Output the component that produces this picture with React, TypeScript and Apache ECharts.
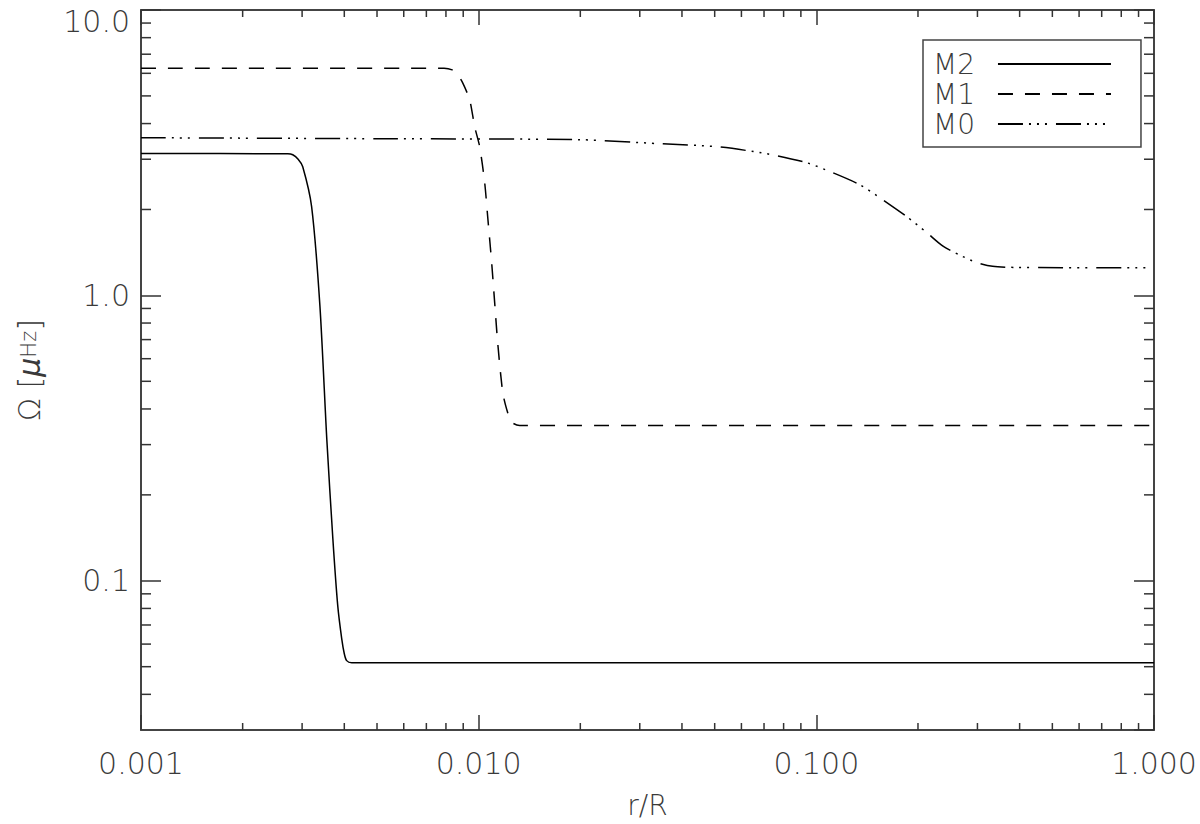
import { useEffect, useRef } from 'react';
import * as echarts from 'echarts';

// Axis ranges
const X_MIN = 0.001;
const X_MAX = 1.0;
const Y_MIN = 0.03;
const Y_MAX = 10.0;

// Minor tick values (log axes, 2..9 per decade)
const xMinorTicks = [
  0.002, 0.003, 0.004, 0.005, 0.006, 0.007, 0.008, 0.009,
  0.02, 0.03, 0.04, 0.05, 0.06, 0.07, 0.08, 0.09,
  0.2, 0.3, 0.4, 0.5, 0.6, 0.7, 0.8, 0.9,
];
const yMinorTicks = [
  0.04, 0.05, 0.06, 0.07, 0.08, 0.09,
  0.2, 0.3, 0.4, 0.5, 0.6, 0.7, 0.8, 0.9,
  2, 3, 4, 5, 6, 7, 8, 9,
];

// Series names
const seriesNames = ['M2', 'M1', 'M0'];

// M2 (solid)
const m2R = [0.001, 0.00272, 0.002815, 0.00292, 0.003013, 0.003201, 0.003388, 0.00355, 0.0037, 0.003825, 0.00393, 0.004, 0.004065, 0.004207, 1.0];
const m2Omega = [3.14, 3.137, 3.11, 3.0, 2.825, 2.047, 0.915, 0.3136, 0.1402, 0.0818, 0.0627, 0.0555, 0.0525, 0.0516, 0.0516];

// M1 (dashed)
const m1R = [0.001, 0.0079, 0.00835, 0.00861, 0.008968, 0.009406, 0.009732, 0.010069, 0.010419, 0.010633, 0.010926, 0.011152, 0.011383, 0.011778, 0.012101, 0.012521, 0.013223, 1.0];
const m1Omega = [6.25, 6.25, 6.17, 6.0, 5.556, 4.845, 3.898, 3.319, 2.484, 1.889, 1.304, 0.945, 0.685, 0.458, 0.3994, 0.3597, 0.35, 0.35];

// M0 (dash-dot-dot-dot)
const m0R = [0.001, 0.005091, 0.01991, 0.03436, 0.05068, 0.07126, 0.09359, 0.11173, 0.13431, 0.15713, 0.18507, 0.21211, 0.23659, 0.26565, 0.29832, 0.33266, 0.39183, 1.0];
const m0Omega = [3.568, 3.54, 3.512, 3.4, 3.319, 3.137, 2.917, 2.692, 2.444, 2.166, 1.889, 1.661, 1.49, 1.385, 1.304, 1.265, 1.253, 1.25];

const FONT = '"DejaVu Sans", sans-serif';
const TEXT_COLOR = '#3a3a3a';
const AXIS_COLOR = '#444';

function zip(xs: number[], ys: number[]) {
  return xs.map((x, i) => [x, ys[i]]);
}

export default function App() {
  const ref = useRef<HTMLDivElement>(null);

  useEffect(() => {
    if (!ref.current) return;
    const chart = echarts.init(ref.current, undefined, { renderer: 'svg' });

    const tickLine = { color: '#333', width: 1.5 };

    const option: any = {
      animation: false,
      backgroundColor: '#fff',
      grid: { left: 141, right: 46, top: 10, bottom: 93, containLabel: false },
      legend: {
        orient: 'vertical',
        left: 923,
        top: 40,
        align: 'right',
        itemWidth: 113,
        itemHeight: 2,
        itemGap: 2,
        padding: [10, 29, 9, 10],
        borderColor: AXIS_COLOR,
        borderWidth: 1.5,
        data: seriesNames,
        itemStyle: { opacity: 0, borderWidth: 0 },
        textStyle: {
          fontFamily: FONT,
          fontWeight: 200,
          fontSize: 28,
          lineHeight: 27,
          color: TEXT_COLOR,
          padding: [0, 18, 0, 0],
        },
      },
      xAxis: [
        {
          type: 'log',
          logBase: 10,
          min: X_MIN,
          max: X_MAX,
          position: 'bottom',
          name: 'r/R',
          nameLocation: 'middle',
          nameGap: 61,
          nameTextStyle: { fontFamily: FONT, fontWeight: 200, fontSize: 28, color: TEXT_COLOR },
          axisLine: { show: true, lineStyle: { color: AXIS_COLOR, width: 2 } },
          axisTick: { show: true, inside: true, length: 15, lineStyle: tickLine },
          minorTick: { show: false },
          splitLine: { show: false },
          axisLabel: {
            margin: 18,
            fontFamily: FONT,
            fontWeight: 200,
            fontSize: 30,
            color: TEXT_COLOR,
            formatter: (v: number) => v.toFixed(3),
          },
        },
        {
          type: 'log',
          logBase: 10,
          min: X_MIN,
          max: X_MAX,
          position: 'top',
          axisLine: { show: true, lineStyle: { color: AXIS_COLOR, width: 2 } },
          axisTick: { show: true, inside: true, length: 15, lineStyle: tickLine },
          axisLabel: { show: false },
          splitLine: { show: false },
        },
      ],
      yAxis: [
        {
          type: 'log',
          logBase: 10,
          min: Y_MIN,
          max: Y_MAX,
          position: 'left',
          name: 'Ω [{mu|μ}{hz|Hz}]',
          nameLocation: 'middle',
          nameGap: 97,
          nameRotate: 90,
          nameTextStyle: {
            fontFamily: FONT,
            fontWeight: 200,
            fontSize: 30,
            color: TEXT_COLOR,
            rich: {
              mu: { fontFamily: FONT, fontStyle: 'italic', fontWeight: 200, fontSize: 30, color: TEXT_COLOR },
              hz: { fontFamily: FONT, fontWeight: 200, fontSize: 21, color: TEXT_COLOR },
            },
          },
          axisLine: { show: true, lineStyle: { color: AXIS_COLOR, width: 2 } },
          axisTick: { show: true, inside: true, length: 20, lineStyle: tickLine },
          splitLine: { show: false },
          axisLabel: {
            margin: 11,
            showMinLabel: false,
            fontFamily: FONT,
            fontWeight: 200,
            fontSize: 30,
            color: TEXT_COLOR,
            formatter: (v: number) => (v >= 9.99 ? '{top|' + v.toFixed(1) + '}' : v.toFixed(1)),
            rich: {
              top: { padding: [22, 0, 0, 0], fontFamily: FONT, fontWeight: 200, fontSize: 30, color: TEXT_COLOR },
            },
          },
        },
        {
          type: 'log',
          logBase: 10,
          min: Y_MIN,
          max: Y_MAX,
          position: 'right',
          axisLine: { show: true, lineStyle: { color: AXIS_COLOR, width: 2 } },
          axisTick: { show: true, inside: true, length: 20, lineStyle: tickLine },
          axisLabel: { show: false },
          splitLine: { show: false },
        },
      ],
      series: [
        {
          name: 'M2',
          type: 'line',
          data: zip(m2R, m2Omega),
          showSymbol: false,
          symbol: 'none',
          smooth: 0.25,
          lineStyle: { color: '#000', width: 1.5, type: 'solid' },
          itemStyle: { color: '#000' },
        },
        {
          name: 'M1',
          type: 'line',
          data: zip(m1R, m1Omega),
          showSymbol: false,
          symbol: 'none',
          smooth: 0.25,
          lineStyle: { color: '#000', width: 1.5, type: [15, 12] },
          itemStyle: { color: '#000' },
        },
        {
          name: 'M0',
          type: 'line',
          data: zip(m0R, m0Omega),
          showSymbol: false,
          symbol: 'none',
          smooth: 0.25,
          lineStyle: { color: '#000', width: 1.5, type: [25, 6, 2, 6, 2, 6, 2, 9] },
          itemStyle: { color: '#000' },
        },
        {
          name: 'xMinor',
          type: 'custom',
          silent: true,
          clip: false,
          data: xMinorTicks.map((v) => [v, Y_MIN]),
          renderItem: (_params: any, api: any) => {
            const v = api.value(0);
            const b = api.coord([v, Y_MIN]);
            const t = api.coord([v, Y_MAX]);
            return {
              type: 'group',
              children: [
                { type: 'line', shape: { x1: b[0], y1: b[1], x2: b[0], y2: b[1] - 7 }, style: { stroke: '#333', lineWidth: 1.5 } },
                { type: 'line', shape: { x1: t[0], y1: t[1], x2: t[0], y2: t[1] + 7 }, style: { stroke: '#333', lineWidth: 1.5 } },
              ],
            };
          },
        },
        {
          name: 'yMinor',
          type: 'custom',
          silent: true,
          clip: false,
          data: yMinorTicks.map((v) => [X_MIN, v]),
          renderItem: (_params: any, api: any) => {
            const v = api.value(1);
            const l = api.coord([X_MIN, v]);
            const r = api.coord([X_MAX, v]);
            return {
              type: 'group',
              children: [
                { type: 'line', shape: { x1: l[0], y1: l[1], x2: l[0] + 10, y2: l[1] }, style: { stroke: '#333', lineWidth: 1.5 } },
                { type: 'line', shape: { x1: r[0], y1: r[1], x2: r[0] - 10, y2: r[1] }, style: { stroke: '#333', lineWidth: 1.5 } },
              ],
            };
          },
        },
      ],
    };

    chart.setOption(option);
    return () => chart.dispose();
  }, []);

  return (
    <div
      ref={ref}
      style={{ position: 'fixed', left: 0, top: 0, width: 1200, height: 824, background: '#fff' }}
    />
  );
}
